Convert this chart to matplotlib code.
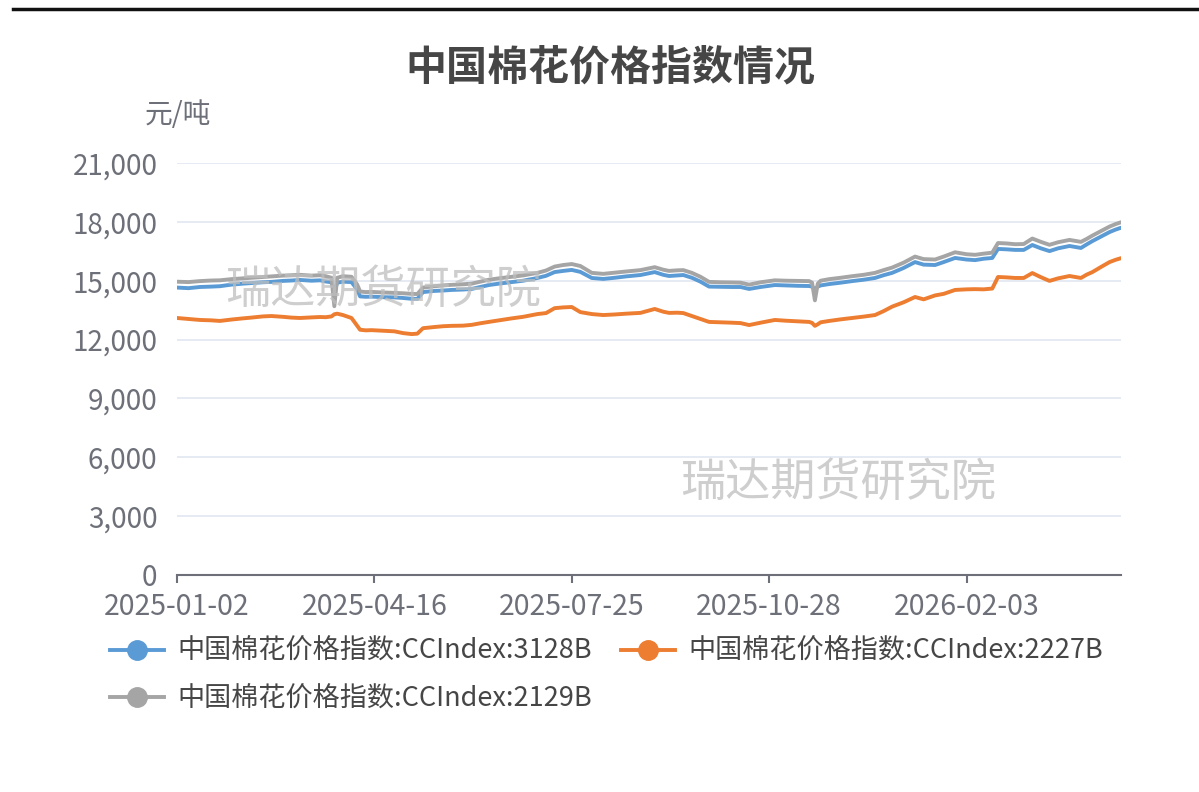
import matplotlib
matplotlib.use("Agg")
import matplotlib.pyplot as plt
from matplotlib.lines import Line2D

plt.rcParams['font.family'] = ['Noto Sans CJK SC', 'DejaVu Sans']

title = "中国棉花价格指数情况"
unit = "元/吨"
watermark = "瑞达期货研究院"
series_names = ["中国棉花价格指数:CCIndex:3128B",
                "中国棉花价格指数:CCIndex:2227B",
                "中国棉花价格指数:CCIndex:2129B"]
colors = ["#5B9BD5", "#ED7D31", "#A5A5A5"]

n_days = 331
tick_idx = [0, 69, 138, 207, 276]
tick_labels = ["2025-01-02", "2025-04-16", "2025-07-25", "2025-10-28", "2026-02-03"]
y_ticks = [0, 3000, 6000, 9000, 12000, 15000, 18000, 21000]

day_idx = [0, 4, 8, 12, 15, 19, 23, 26, 30, 33, 37, 40, 43, 47, 50, 52, 54, 55, 56, 58,
           61, 63, 64, 66, 68, 72, 76, 79, 82, 84, 86, 90, 93, 96, 100, 103, 106, 109, 113, 117,
           121, 126, 129, 132, 135, 138, 141, 145, 149, 153, 157, 162, 165, 167, 170, 172, 175, 177, 180, 183,
           186, 190, 194, 197, 200, 204, 209, 213, 217, 221, 222, 223, 224, 225, 228, 232, 236, 240, 244, 247,
           250, 254, 258, 261, 265, 268, 272, 276, 279, 282, 285, 287, 290, 293, 296, 299, 302, 305, 308, 312,
           316, 318, 320, 323, 326, 328, 330]

idx_3128 = [14650, 14620, 14680, 14700, 14720, 14800, 14850, 14880, 14920, 14940, 14990, 15010, 15040, 15000, 15020, 14960, 14920, 14450, 14900, 14950,
            14930, 14550, 14200, 14180, 14190, 14160, 14150, 14120, 14080, 14070, 14420, 14480, 14500, 14530, 14550, 14580, 14680, 14780, 14860, 14930,
            15000, 15140, 15250, 15440, 15500, 15550, 15450, 15140, 15090, 15150, 15220, 15290, 15380, 15440, 15300, 15240, 15270, 15290, 15150, 14950,
            14700, 14690, 14680, 14680, 14580, 14680, 14780, 14760, 14740, 14730, 14700, 14560, 14700, 14760, 14830, 14900, 14980, 15050, 15140, 15280,
            15400, 15650, 15950, 15820, 15800, 15950, 16160, 16080, 16050, 16120, 16160, 16620, 16600, 16570, 16570, 16820, 16650, 16510, 16650, 16770,
            16670, 16850, 17020, 17250, 17480, 17600, 17700]

idx_2227 = [13100, 13050, 13000, 12980, 12950, 13020, 13080, 13120, 13180, 13200, 13160, 13120, 13100, 13130, 13150, 13140, 13180, 13290, 13320, 13250,
            13100, 12700, 12500, 12470, 12480, 12450, 12420, 12330, 12280, 12300, 12580, 12640, 12680, 12700, 12710, 12750, 12830, 12900, 12990, 13080,
            13160, 13300, 13350, 13600, 13640, 13660, 13400, 13300, 13250, 13280, 13320, 13360, 13480, 13560, 13420, 13360, 13370, 13350, 13200, 13050,
            12900, 12880, 12860, 12840, 12740, 12860, 13000, 12960, 12930, 12900, 12850, 12700, 12780, 12880, 12950, 13030, 13100, 13170, 13250, 13450,
            13680, 13900, 14170, 14050, 14250, 14330, 14530, 14560, 14570, 14560, 14600, 15190, 15170, 15140, 15140, 15390, 15180, 14990, 15120, 15240,
            15140, 15310, 15440, 15700, 15950, 16060, 16150]

idx_2129 = [14950, 14930, 14980, 15010, 15020, 15080, 15120, 15150, 15190, 15220, 15260, 15280, 15300, 15260, 15280, 15230, 15150, 13700, 15150, 15230,
            15200, 14800, 14450, 14420, 14430, 14400, 14380, 14360, 14330, 14320, 14650, 14720, 14760, 14790, 14820, 14850, 14950, 15050, 15130, 15200,
            15270, 15400, 15520, 15720, 15800, 15850, 15750, 15400, 15350, 15410, 15470, 15540, 15630, 15690, 15560, 15500, 15530, 15540, 15400, 15200,
            14940, 14920, 14910, 14900, 14800, 14920, 15020, 15000, 14990, 14980, 14900, 14000, 14850, 15000, 15080, 15150, 15230, 15300, 15400, 15540,
            15670, 15920, 16230, 16100, 16080, 16230, 16450, 16350, 16320, 16380, 16430, 16920, 16900, 16860, 16870, 17150, 16980, 16830, 16960, 17080,
            16980, 17130, 17300, 17530, 17760, 17880, 17980]

series = [idx_3128, idx_2227, idx_2129]

W, H = 1199, 792
fig = plt.figure(figsize=(W / 100, H / 100), dpi=100)
fig.patch.set_facecolor("white")

ax = fig.add_axes([177 / W, 1 - 575 / H, (1121 - 177) / W, (575 - 163) / H])
for vals, c in zip(series, colors):
    ax.plot(day_idx, vals, color=c, lw=2.8, solid_joinstyle="round", solid_capstyle="round", zorder=3)

ax.set_xlim(0, n_days - 1)
ax.set_ylim(0, 21000)
ax.set_yticks(y_ticks)
ax.set_yticklabels([f"{v:,}" for v in y_ticks])
ax.set_xticks(tick_idx)
ax.set_xticklabels(tick_labels)
ax.grid(axis="y", color="#E0E6F1", lw=1.2, zorder=0)
for s in ["top", "right", "left"]:
    ax.spines[s].set_visible(False)
ax.spines["bottom"].set_color("#6E7079")
ax.spines["bottom"].set_linewidth(1.5)
ax.spines["bottom"].set_zorder(4)
ax.tick_params(axis="y", length=0, pad=14, labelsize=20, labelcolor="#6E7079")
ax.tick_params(axis="x", length=6, width=1.5, color="#6E7079", pad=6, labelsize=20.5, labelcolor="#6E7079")

# title & unit
fig.text(610 / W, 1 - 67 / H, title, ha="center", va="center", fontsize=29.5, fontweight="bold", color="#464646")
fig.text(145 / W, 1 - 115 / H, unit, ha="left", va="center", fontsize=20, color="#6E7079")

# watermarks
fig.text(383 / W, 1 - 290 / H, watermark, ha="center", va="center", fontsize=32.5, color="#BEBEBE", alpha=0.75, zorder=10)
fig.text(838 / W, 1 - 483 / H, watermark, ha="center", va="center", fontsize=32.5, color="#BEBEBE", alpha=0.75, zorder=10)

# top border line
fig.add_artist(Line2D([13 / W, 1.0], [1 - 9 / H, 1 - 9 / H], color="#111111", lw=2.5, transform=fig.transFigure))

# legend (row-major: 3128B, 2227B / 2129B)
order = [0, 2, 1]
handles = [Line2D([0], [0], color=colors[i], lw=2.8, marker="o", markersize=14,
                  markerfacecolor=colors[i], markeredgecolor=colors[i]) for i in order]
labels = [series_names[i] for i in order]
leg = fig.legend(handles, labels, loc="upper left", bbox_to_anchor=(110 / W, 1 - 638 / H),
                 ncol=2, frameon=False, fontsize=19.5, handlelength=2.0, handletextpad=0.5,
                 columnspacing=1.05, labelspacing=0.75, borderaxespad=0, borderpad=0)
for t in leg.get_texts():
    t.set_color("#464646")

fig.savefig("out.png", dpi=100)
